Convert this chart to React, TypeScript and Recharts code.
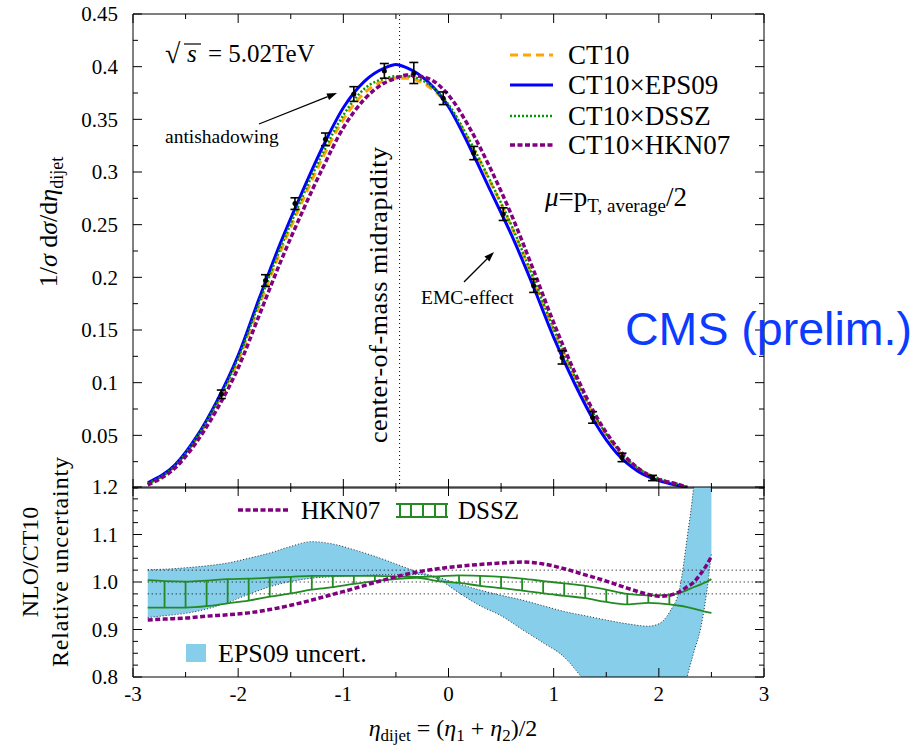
import React from "react";
import {
  ComposedChart,
  Line,
  Area,
  Scatter,
  ErrorBar,
  XAxis,
  YAxis,
  ReferenceLine,
} from "recharts";

const SERIF = "'Liberation Serif', 'DejaVu Serif', 'Times New Roman', serif";
const SANS = "'Liberation Sans', Arial, sans-serif";

// upper panel: 1/sigma dsigma/deta_dijet
const etaTop = [-2.86, -2.6, -2.4, -2.2, -2.0, -1.8, -1.6, -1.4, -1.2, -1.0, -0.8, -0.6, -0.5, -0.4, -0.2, 0, 0.2, 0.4, 0.6, 0.8, 1.0, 1.2, 1.4, 1.6, 1.8, 2.0, 2.2, 2.27];
const ct10 = [0.004, 0.021, 0.046, 0.080, 0.121, 0.173, 0.224, 0.270, 0.313, 0.350, 0.375, 0.387, 0.389, 0.389, 0.382, 0.363, 0.329, 0.290, 0.248, 0.200, 0.150, 0.105, 0.066, 0.037, 0.018, 0.008, 0.003, 0.0005];
const eps09 = [0.005, 0.022, 0.048, 0.083, 0.126, 0.180, 0.232, 0.279, 0.323, 0.361, 0.386, 0.399, 0.402, 0.399, 0.386, 0.362, 0.324, 0.282, 0.240, 0.193, 0.143, 0.099, 0.061, 0.033, 0.016, 0.007, 0.002, 0.0005];
const dssz = [0.004, 0.021, 0.047, 0.081, 0.123, 0.176, 0.227, 0.274, 0.317, 0.354, 0.379, 0.389, 0.391, 0.391, 0.384, 0.364, 0.330, 0.291, 0.249, 0.201, 0.151, 0.106, 0.067, 0.038, 0.019, 0.009, 0.003, 0.0005];
const hkn07 = [0.003, 0.019, 0.043, 0.075, 0.114, 0.164, 0.214, 0.260, 0.303, 0.342, 0.369, 0.385, 0.389, 0.392, 0.389, 0.373, 0.342, 0.303, 0.259, 0.209, 0.157, 0.110, 0.069, 0.039, 0.019, 0.008, 0.003, 0.0005];

// CMS preliminary points
const dataEta = [-2.16, -1.74, -1.46, -1.17, -0.9, -0.61, -0.33, -0.05, 0.24, 0.52, 0.81, 1.08, 1.37, 1.65, 1.94];
const dataVal = [0.089, 0.197, 0.270, 0.331, 0.374, 0.396, 0.394, 0.370, 0.318, 0.260, 0.192, 0.124, 0.067, 0.029, 0.0095];
const dataErr = [0.004, 0.0055, 0.0055, 0.006, 0.007, 0.007, 0.010, 0.006, 0.0063, 0.006, 0.0063, 0.0063, 0.0055, 0.004, 0.0025];

// lower panel: ratios to CT10
const etaBot = [-2.86, -2.7, -2.5, -2.3, -2.1, -1.9, -1.7, -1.5, -1.3, -1.1, -0.9, -0.7, -0.5, -0.3, -0.1, 0.1, 0.3, 0.5, 0.7, 0.9, 1.1, 1.3, 1.5, 1.7, 1.9, 2.0, 2.1, 2.2, 2.27, 2.33, 2.4, 2.45, 2.5];
const epsLo = [0.925, 0.929, 0.934, 0.943, 0.957, 0.974, 0.990, 1.001, 1.008, 1.011, 1.013, 1.015, 1.016, 1.016, 1.006, 0.977, 0.950, 0.929, 0.900, 0.872, 0.842, 0.790, 0.74, 0.70, 0.67, 0.66, 0.68, 0.72, 0.80, 0.85, 0.905, 0.97, 1.06];
const epsHi = [1.026, 1.027, 1.030, 1.034, 1.040, 1.050, 1.061, 1.075, 1.085, 1.080, 1.068, 1.054, 1.038, 1.022, 1.010, 0.996, 0.983, 0.972, 0.962, 0.950, 0.938, 0.929, 0.920, 0.912, 0.907, 0.912, 0.936, 0.989, 1.095, 1.2, 1.4, 1.55, 1.7];
const dsszLo = [0.946, 0.946, 0.946, 0.949, 0.955, 0.961, 0.969, 0.976, 0.984, 0.989, 0.996, 1.002, 1.006, 1.009, 1.002, 0.998, 0.992, 0.987, 0.982, 0.976, 0.971, 0.966, 0.958, 0.953, 0.956, 0.955, 0.953, 0.950, 0.947, 0.944, 0.940, 0.937, 0.935];
const dsszHi = [1.004, 1.002, 1.001, 1.003, 1.006, 1.007, 1.009, 1.011, 1.013, 1.013, 1.013, 1.013, 1.012, 1.011, 1.012, 1.014, 1.013, 1.011, 1.007, 1.002, 0.997, 0.992, 0.984, 0.975, 0.972, 0.972, 0.973, 0.977, 0.983, 0.989, 0.995, 1.000, 1.006];
const hknRatio = [0.920, 0.922, 0.924, 0.928, 0.931, 0.935, 0.942, 0.951, 0.962, 0.974, 0.986, 0.999, 1.011, 1.021, 1.028, 1.033, 1.037, 1.040, 1.042, 1.038, 1.028, 1.015, 1.002, 0.987, 0.974, 0.970, 0.972, 0.980, 0.990, 0.999, 1.018, 1.034, 1.054];
const hatchEta = [-2.7, -2.5, -2.3, -2.1, -1.9, -1.7, -1.5, -1.3, -1.1, -0.9, -0.7, -0.5, -0.3, -0.1, 0.1, 0.3, 0.5, 0.7, 0.9, 1.1, 1.3, 1.5, 1.7, 1.9, 2.1];
const refLevels = [0.975, 1.0, 1.025];
const refStart = -2.86;
const cmMid = -0.465;

// ticks
const xTicks = [-3, -2.5, -2, -1.5, -1, -0.5, 0, 0.5, 1, 1.5, 2, 2.5, 3];
const xMajor = [-3, -2, -1, 0, 1, 2, 3];
const xLabels = ["-3", "-2", "-1", "0", "1", "2", "3"];
const topYTicks = [0, 0.025, 0.05, 0.075, 0.1, 0.125, 0.15, 0.175, 0.2, 0.225, 0.25, 0.275, 0.3, 0.325, 0.35, 0.375, 0.4, 0.425, 0.45];
const topYMajor = [0.05, 0.1, 0.15, 0.2, 0.25, 0.3, 0.35, 0.4, 0.45];
const topYLabels = ["0.05", "0.1", "0.15", "0.2", "0.25", "0.3", "0.35", "0.4", "0.45"];
const botYTicks = [0.8, 0.825, 0.85, 0.875, 0.9, 0.925, 0.95, 0.975, 1.0, 1.025, 1.05, 1.075, 1.1, 1.125, 1.15, 1.175, 1.2];
const botYMajor = [0.8, 0.9, 1.0, 1.1, 1.2];
const botYLabels = ["0.8", "0.9", "1.0", "1.1", "1.2"];

const topRows = etaTop.map((eta, i) => ({ eta, ct10: ct10[i], eps09: eps09[i], dssz: dssz[i], hkn07: hkn07[i] }));
const pointRows = dataEta.map((eta, i) => ({ eta, v: dataVal[i], e: dataErr[i] }));
const botRows = etaBot.map((eta, i) => ({
  eta,
  band: [epsLo[i], epsHi[i]],
  dLo: dsszLo[i],
  dHi: dsszHi[i],
  hkn: hknRatio[i],
}));
const hatchRows = botRows
  .filter((r) => hatchEta.some((h) => Math.abs(h - r.eta) < 1e-6))
  .map((r) => ({ eta: r.eta, lo: r.dLo, span: [0, r.dHi - r.dLo] }));

const serifStyle = { fontFamily: SERIF };

// inward tick marks, labels only on the major ones
function tickFor(side: "left" | "right" | "top" | "bottom", major: number[], labels?: string[]) {
  return (props: any) => {
    const { x, y, payload } = props;
    const i = major.findIndex((m) => Math.abs(m - payload.value) < 1e-6);
    const len = i >= 0 ? 9 : 5;
    let x2 = x;
    let y2 = y;
    if (side === "left") x2 = x + len;
    if (side === "right") x2 = x - len;
    if (side === "top") y2 = y + len;
    if (side === "bottom") y2 = y - len;
    const lab = labels && i >= 0 ? labels[i] : null;
    return (
      <g>
        <line x1={x} y1={y} x2={x2} y2={y2} stroke="#000" strokeWidth={1} />
        {lab && side === "left" && (
          <text x={x - 15} y={y} dy="0.35em" textAnchor="end" style={serifStyle} fontSize={21} fill="#000">
            {lab}
          </text>
        )}
        {lab && side === "bottom" && (
          <text x={x} y={y + 24} textAnchor="middle" style={serifStyle} fontSize={21} fill="#000">
            {lab}
          </text>
        )}
      </g>
    );
  };
}

const axisBase = {
  tickSize: 0,
  tickMargin: 0,
  tickLine: false,
  axisLine: { stroke: "#000" },
  interval: 0 as const,
  allowDataOverflow: true,
  type: "number" as const,
};

function Arrow({ x1, y1, x2, y2 }: { x1: number; y1: number; x2: number; y2: number }) {
  const a = Math.atan2(y2 - y1, x2 - x1);
  const bx = x2 - 10 * Math.cos(a);
  const by = y2 - 10 * Math.sin(a);
  const px = -Math.sin(a) * 3.5;
  const py = Math.cos(a) * 3.5;
  return (
    <g>
      <line x1={x1} y1={y1} x2={bx} y2={by} stroke="#000" strokeWidth={1.3} />
      <polygon points={`${x2},${y2} ${bx + px},${by + py} ${bx - px},${by - py}`} fill="#000" />
    </g>
  );
}

function Overlay() {
  const green = "#228b22";
  return (
    <svg width={914} height={747} style={{ position: "absolute", left: 0, top: 0, pointerEvents: "none" }}>
      <g style={serifStyle} fill="#000">
        {/* sqrt(s) */}
        <text x={165} y={63} fontSize={28}>√</text>
        <line x1={184} y1={44} x2={201} y2={44} stroke="#000" strokeWidth={1.2} />
        <text x={187} y={62} fontSize={25} fontStyle="italic">s</text>
        <text x={208} y={62} fontSize={25}>= 5.02TeV</text>

        <text x={165} y={143} fontSize={19.5}>antishadowing</text>
        <Arrow x1={259} y1={124} x2={337} y2={93} />
        <text x={421} y={304} fontSize={19.5}>EMC-effect</text>
        <Arrow x1={464} y1={282} x2={494} y2={252} />

        <text transform="translate(387,295) rotate(-90)" textAnchor="middle" fontSize={26} textLength={296} lengthAdjust="spacing">
          center-of-mass midrapidity
        </text>

        {/* top legend */}
        <line x1={510} y1={55} x2={553} y2={55} stroke="#ffa500" strokeWidth={3} strokeDasharray="8 5" />
        <line x1={510} y1={85} x2={553} y2={85} stroke="#0000ff" strokeWidth={3} />
        <line x1={510} y1={116} x2={553} y2={116} stroke="#009900" strokeWidth={2.5} strokeDasharray="2 2" />
        <line x1={510} y1={145} x2={553} y2={145} stroke="#800080" strokeWidth={3.5} strokeDasharray="5 2.5" />
        <text x={568} y={64} fontSize={27}>CT10</text>
        <text x={568} y={94} fontSize={27}>CT10×EPS09</text>
        <text x={568} y={125} fontSize={27}>CT10×DSSZ</text>
        <text x={568} y={154} fontSize={27}>CT10×HKN07</text>

        <text x={545} y={206} fontSize={27}>
          <tspan fontStyle="italic">μ</tspan>=p
          <tspan fontSize={19} dy={6}>T, average</tspan>
          <tspan dy={-6}>/2</tspan>
        </text>

        {/* y label, top panel */}
        <text transform="translate(57,222) rotate(-90)" textAnchor="middle" fontSize={26}>
          1/<tspan fontStyle="italic">σ</tspan> d<tspan fontStyle="italic">σ</tspan>/d<tspan fontStyle="italic">η</tspan>
          <tspan fontSize={18} dy={6}>dijet</tspan>
        </text>

        {/* y label, bottom panel */}
        <text transform="translate(38,562) rotate(-90)" textAnchor="middle" fontSize={24}>NLO/CT10</text>
        <text transform="translate(68,562) rotate(-90)" textAnchor="middle" fontSize={24} textLength={210} lengthAdjust="spacing">
          Relative uncertainty
        </text>

        {/* bottom legend */}
        <line x1={238} y1={510} x2={290} y2={510} stroke="#800080" strokeWidth={3.5} strokeDasharray="5 2.5" />
        <text x={301} y={519} fontSize={25}>HKN07</text>
        <g stroke={green} strokeWidth={2}>
          <line x1={396} y1={504} x2={448} y2={504} />
          <line x1={396} y1={517} x2={448} y2={517} />
          {[400, 411, 423, 435, 446].map((x) => (
            <line key={x} x1={x} y1={504} x2={x} y2={517} />
          ))}
        </g>
        <text x={458} y={519} fontSize={25}>DSSZ</text>
        <rect x={186} y={644} width={20} height={18} fill="#87ceeb" />
        <text x={218} y={662} fontSize={26}>EPS09 uncert.</text>

        {/* x label */}
        <text x={453} y={736} textAnchor="middle" fontSize={24}>
          <tspan fontStyle="italic">η</tspan>
          <tspan fontSize={17} dy={5}>dijet</tspan>
          <tspan dy={-5}> = (</tspan>
          <tspan fontStyle="italic">η</tspan>
          <tspan fontSize={17} dy={5}>1</tspan>
          <tspan dy={-5}> + </tspan>
          <tspan fontStyle="italic">η</tspan>
          <tspan fontSize={17} dy={5}>2</tspan>
          <tspan dy={-5}>)/2</tspan>
        </text>
      </g>
      <text x={625} y={345} style={{ fontFamily: SANS }} fontSize={46} fill="#0b3bff" textLength={287} lengthAdjust="spacingAndGlyphs">
        CMS (prelim.)
      </text>
    </svg>
  );
}

export default function App() {
  return (
    <div style={{ position: "absolute", left: 0, top: 0, width: 914, height: 747, background: "#fff", fontFamily: SERIF }}>
      <div style={{ position: "absolute", left: 0, top: 0 }}>
        <ComposedChart width={914} height={500} data={topRows} margin={{ top: 4, right: 140, bottom: 2, left: 73 }}>
          <XAxis {...axisBase} dataKey="eta" domain={[-3, 3]} ticks={xTicks} height={10} tick={tickFor("bottom", xMajor)} />
          <XAxis {...axisBase} xAxisId="top" orientation="top" dataKey="eta" domain={[-3, 3]} ticks={xTicks} height={10} tick={tickFor("top", xMajor)} />
          <YAxis {...axisBase} domain={[0, 0.45]} ticks={topYTicks} width={60} tick={tickFor("left", topYMajor, topYLabels)} />
          <YAxis {...axisBase} yAxisId="r" orientation="right" domain={[0, 0.45]} ticks={topYTicks} width={10} tick={tickFor("right", topYMajor)} />
          <ReferenceLine x={cmMid} stroke="#000" strokeWidth={1} strokeDasharray="1 3" />
          <Line type="monotone" dataKey="ct10" stroke="#ffa500" strokeWidth={3} strokeDasharray="8 5" dot={false} activeDot={false} isAnimationActive={false} />
          <Line type="monotone" dataKey="eps09" stroke="#0000ff" strokeWidth={3} dot={false} activeDot={false} isAnimationActive={false} />
          <Line type="monotone" dataKey="dssz" stroke="#009900" strokeWidth={2.5} strokeDasharray="2 2" dot={false} activeDot={false} isAnimationActive={false} />
          <Line type="monotone" dataKey="hkn07" stroke="#800080" strokeWidth={3.5} strokeDasharray="5 2.5" dot={false} activeDot={false} isAnimationActive={false} />
          <Scatter
            data={pointRows}
            dataKey="v"
            isAnimationActive={false}
            shape={(p: any) => <circle cx={p.cx} cy={p.cy} r={2.5} fill="#000" />}
          >
            <ErrorBar dataKey="e" direction="y" width={4.5} stroke="#000" strokeWidth={1.6} />
          </Scatter>
        </ComposedChart>
      </div>
      <div style={{ position: "absolute", left: 0, top: 0 }}>
        <ComposedChart width={914} height={747} data={botRows} margin={{ top: 477, right: 140, bottom: 30, left: 73 }}>
          <XAxis {...axisBase} dataKey="eta" domain={[-3, 3]} ticks={xTicks} height={40} tick={tickFor("bottom", xMajor, xLabels)} />
          <XAxis {...axisBase} xAxisId="top" orientation="top" dataKey="eta" domain={[-3, 3]} ticks={xTicks} height={10} tick={tickFor("top", xMajor)} />
          <YAxis {...axisBase} domain={[0.8, 1.2]} ticks={botYTicks} width={60} tick={tickFor("left", botYMajor, botYLabels)} />
          <YAxis {...axisBase} yAxisId="r" orientation="right" domain={[0.8, 1.2]} ticks={botYTicks} width={10} tick={tickFor("right", botYMajor)} />
          <Area
            type="monotone"
            dataKey="band"
            fill="#87ceeb"
            fillOpacity={1}
            stroke="#000"
            strokeWidth={0.8}
            strokeDasharray="1 2"
            dot={false}
            activeDot={false}
            isAnimationActive={false}
          />
          {refLevels.map((lv) => (
            <ReferenceLine
              key={lv}
              segment={[{ x: refStart, y: lv }, { x: 3, y: lv }]}
              stroke="#000"
              strokeWidth={1}
              strokeDasharray="1 3"
            />
          ))}
          <Line type="monotone" dataKey="dHi" stroke="#228b22" strokeWidth={1.8} dot={false} activeDot={false} isAnimationActive={false} />
          <Line type="monotone" dataKey="dLo" stroke="#228b22" strokeWidth={1.8} dot={false} activeDot={false} isAnimationActive={false} />
          <Scatter data={hatchRows} dataKey="lo" isAnimationActive={false} shape={() => <g />}>
            <ErrorBar dataKey="span" direction="y" width={0} stroke="#228b22" strokeWidth={1.8} />
          </Scatter>
          <Line type="monotone" dataKey="hkn" stroke="#800080" strokeWidth={3.5} strokeDasharray="5 2.5" dot={false} activeDot={false} isAnimationActive={false} />
        </ComposedChart>
      </div>
      <Overlay />
    </div>
  );
}
